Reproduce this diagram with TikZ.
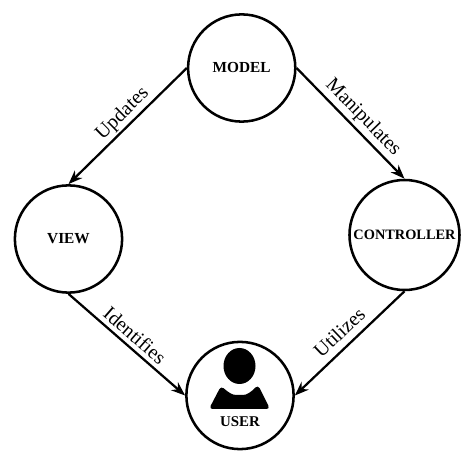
\documentclass[tikz,border=0pt]{standalone}
\usepackage{fontspec}
\usetikzlibrary{arrows.meta}
\setmainfont{Liberation Serif}
\tikzset{
  part/.style={draw,circle,line width=1.8pt,minimum size=2.68cm,inner sep=0pt,font=\fontsize{10.9}{12}\selectfont\bfseries},
  link/.style={-{Stealth[length=10pt,width=7.5pt]},line width=1.6pt},
  verb/.style={font=\fontsize{14.2}{17}\selectfont,sloped,above,inner sep=3pt}
}
\begin{document}
\begin{tikzpicture}[x=0.025cm,y=-0.025cm]
\useasboundingbox (0,0) rectangle (474,464);
\node[part] (M) at (241.7,68){MODEL};
\node[part] (V) at (68.5,239){VIEW};
\node[part,minimum size=2.75cm,font=\fontsize{10.2}{12}\selectfont\bfseries] (C) at (404.5,235){CONTROLLER};
\node[part] (U) at (240,395.5){};
\draw[link](M.west) --node[verb,pos=.47,inner sep=1.5pt]{Updates} (V.north);
\draw[link](M.east) --node[verb,pos=.53,inner sep=2pt]{Manipulates} (C.north);
\draw[link](V.south) --node[verb]{Identifies} (U.west);
\draw[link](C.south) --node[verb,inner sep=5pt]{Utilizes} (U.east);
% user icon
\fill (239.5,366) ellipse [x radius=16,y radius=18];
\fill[rounded corners=2.5pt] (209,409) -- (221,386) .. controls (228,392) and (232,395) .. (239.5,395) .. controls (247,395) and (251,392) .. (258,385) -- (270,409) -- cycle;
\node[font=\fontsize{10.6}{12}\selectfont\bfseries] (L) at (240,422){USER};
\end{tikzpicture}
\end{document}
